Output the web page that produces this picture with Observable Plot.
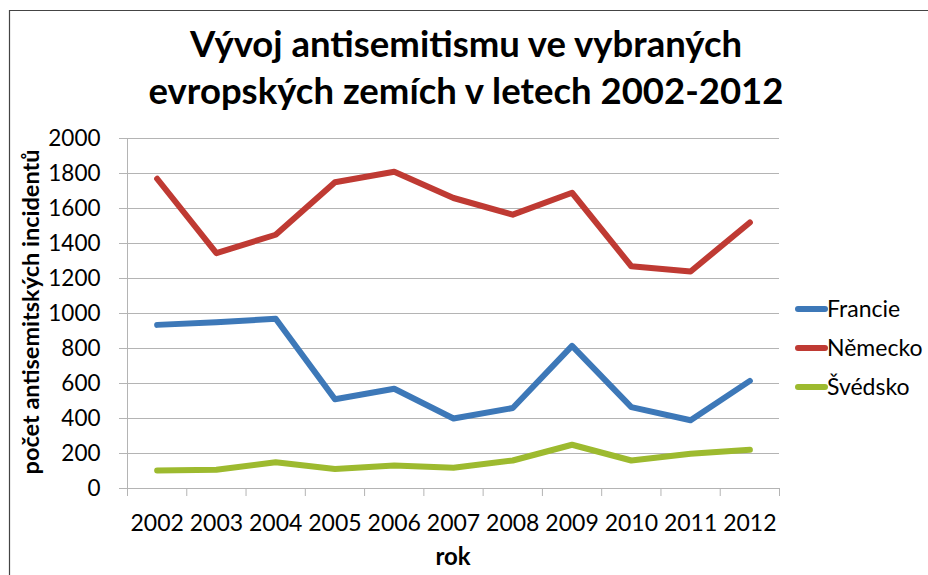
<!DOCTYPE html>
<html>
<head>
<meta charset="utf-8">
<script src="https://cdn.jsdelivr.net/npm/d3@7"></script>
<script src="https://cdn.jsdelivr.net/npm/@observablehq/plot@0.6"></script>
<style>
  html, body { margin: 0; padding: 0; background: #fff; }
  #chart { width: 928px; height: 575px; overflow: hidden; }
  svg { font-family: Lato, "Open Sans", sans-serif; }
</style>
</head>
<body>
<div id="chart"></div>
<script>
// ---- data ----
const years = [2002, 2003, 2004, 2005, 2006, 2007, 2008, 2009, 2010, 2011, 2012];
const francie = [935, 950, 970, 510, 570, 400, 460, 815, 465, 390, 615];
const nemecko = [1770, 1345, 1450, 1750, 1810, 1660, 1565, 1690, 1270, 1240, 1520];
const svedsko = [103, 107, 150, 112, 131, 118, 160, 250, 160, 198, 221];
const countries = ["Francie", "Německo", "Švédsko"];
const colors = ["#3d78b8", "#bf3a33", "#9dba2f"];
const yTicks = [0, 200, 400, 600, 800, 1000, 1200, 1400, 1600, 1800, 2000];
const titleLines = ["Vývoj antisemitismu ve vybraných", "evropských zemích v letech 2002-2012"];
const yLabel = "počet antisemitských incidentů";
const xLabel = "rok";

const series = [francie, nemecko, svedsko];
const rows = [];
countries.forEach((c, i) => years.forEach((y, j) => rows.push({country: c, year: y, value: series[i][j]})));
const bounds = [years[0] - 0.5, ...years.map(y => y + 0.5)];

const plot = Plot.plot({
  width: 928,
  height: 575,
  marginLeft: 127,
  marginRight: 149,
  marginTop: 138,
  marginBottom: 87,
  style: {fontFamily: "Lato, 'Open Sans', sans-serif", color: "#000", background: "#fff"},
  x: {type: "linear", domain: [bounds[0], bounds[bounds.length - 1]]},
  y: {domain: [0, 2000]},
  color: {domain: countries, range: colors},
  marks: [
    Plot.gridY({ticks: yTicks, stroke: "#b4b4b4", strokeOpacity: 1, strokeWidth: 1}),
    Plot.ruleX([bounds[0]], {stroke: "#b4b4b4"}),
    Plot.ruleY([0], {stroke: "#b4b4b4"}),
    Plot.axisY({ticks: yTicks, tickSize: 8, tickPadding: 19, stroke: "#b4b4b4", fontSize: 22.5, label: null, tickFormat: d => String(d)}),
    Plot.axisX({ticks: bounds, tickSize: 8, stroke: "#b4b4b4", tickFormat: () => "", label: null}),
    Plot.axisX({ticks: years, tickSize: 0, tickPadding: 26, fontSize: 23, label: null, tickFormat: d => String(d)}),
    Plot.line(rows, {x: "year", y: "value", z: "country", stroke: "country", strokeWidth: 6, strokeLinecap: "round", strokeLinejoin: "round"})
  ]
});

const svg = d3.select(plot);
// frame border (top and left visible)
svg.append("path").attr("d", "M9.5,600 V10.5 H940").attr("fill", "none").attr("stroke", "#444").attr("stroke-width", 1.2);

// title
const title = svg.append("text").attr("text-anchor", "middle").attr("font-weight", "bold").attr("font-size", 36.5).attr("fill", "#000");
title.append("tspan").attr("x", 466).attr("y", 57).text(titleLines[0]);
title.append("tspan").attr("x", 466).attr("y", 104).text(titleLines[1]);

// y-axis label
svg.append("text").attr("transform", "translate(39,312) rotate(-90)").attr("text-anchor", "middle")
  .attr("font-weight", "bold").attr("font-size", 23.5).attr("fill", "#000").text(yLabel);

// x-axis label
svg.append("text").attr("x", 453).attr("y", 565).attr("text-anchor", "middle")
  .attr("font-weight", "bold").attr("font-size", 24).attr("fill", "#000").text(xLabel);

// legend
const leg = svg.append("g");
countries.forEach((c, i) => {
  const cy = 309 + i * 39;
  leg.append("line").attr("x1", 798).attr("x2", 825).attr("y1", cy).attr("y2", cy)
    .attr("stroke", colors[i]).attr("stroke-width", 6).attr("stroke-linecap", "round");
  leg.append("text").attr("x", 827).attr("y", cy + 8).attr("text-anchor", "start")
    .attr("font-size", 23).attr("fill", "#000").text(c);
});

document.getElementById("chart").appendChild(plot);
</script>
</body>
</html>
